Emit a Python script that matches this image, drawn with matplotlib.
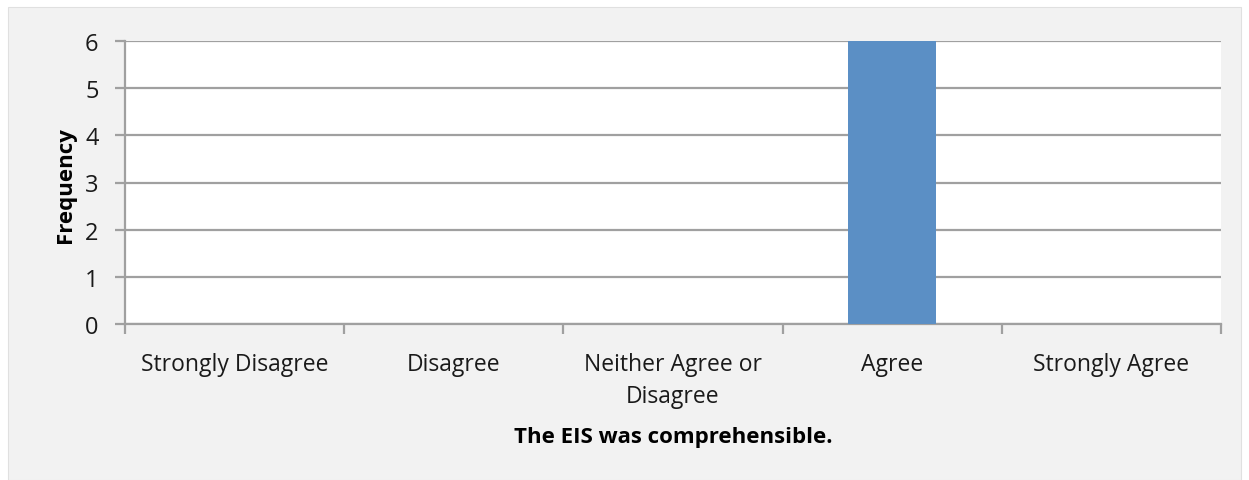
import numpy as np
import matplotlib.pyplot as plt
from matplotlib.patches import Rectangle

categories = ['Strongly Disagree', 'Disagree', 'Neither Agree or\nDisagree',
              'Agree', 'Strongly Agree']
frequency = [0, 0, 0, 6, 0]
y_ticks = [0, 1, 2, 3, 4, 5, 6]

plt.rcParams['font.family'] = ['Open Sans', 'DejaVu Sans']

fig = plt.figure(figsize=(12.49, 4.81), dpi=100)
fig.patch.set_facecolor('white')
# grey chart panel behind the axes
fig.patches.append(Rectangle((8 / 1249, 0), 1233 / 1249, 473 / 481,
                             transform=fig.transFigure, facecolor='#f2f2f2',
                             edgecolor='#e0e0e0', linewidth=0.8, zorder=-5))

ax = fig.add_axes([125 / 1249, 1 - 325 / 481, 1096 / 1249, 283 / 481])
ax.set_facecolor('white')

x = np.arange(len(categories))
ax.bar(x, frequency, width=0.4, color='#5b8fc5', zorder=3)

ax.set_xlim(-0.5, len(categories) - 0.5)
ax.set_ylim(0, 6)
ax.set_yticks(y_ticks)
ax.yaxis.grid(True, color='#a0a0a0', linewidth=1.6, zorder=1)
ax.set_axisbelow(True)

# ticks sit on the category boundaries, labels in the middle
ax.set_xticks(np.arange(-0.5, len(categories)), minor=False)
ax.set_xticklabels([])
ax.set_xticks(x, minor=True)
ax.set_xticklabels(categories, minor=True, fontsize=16.5, color='#1a1a1a',
                   linespacing=1.45)
ax.tick_params(axis='x', which='minor', length=0, pad=20)
ax.tick_params(axis='x', which='major', length=7, width=1.6, color='#a0a0a0')
ax.tick_params(axis='y', length=7, width=1.6, color='#a0a0a0',
               labelsize=17, labelcolor='#1a1a1a', pad=12)

for side in ['top', 'right']:
    ax.spines[side].set_visible(False)
for side in ['left', 'bottom']:
    ax.spines[side].set_color('#a0a0a0')
    ax.spines[side].set_linewidth(1.6)

ax.set_ylabel('Frequency', fontsize=16, fontweight='bold', va='center')
ax.yaxis.set_label_coords(-0.0547, 0.495)
ax.set_xlabel('The EIS was comprehensible.', fontsize=16, fontweight='bold',
              va='center')
ax.xaxis.set_label_coords(0.5, -0.396)

fig.savefig('out.png', dpi=100)
